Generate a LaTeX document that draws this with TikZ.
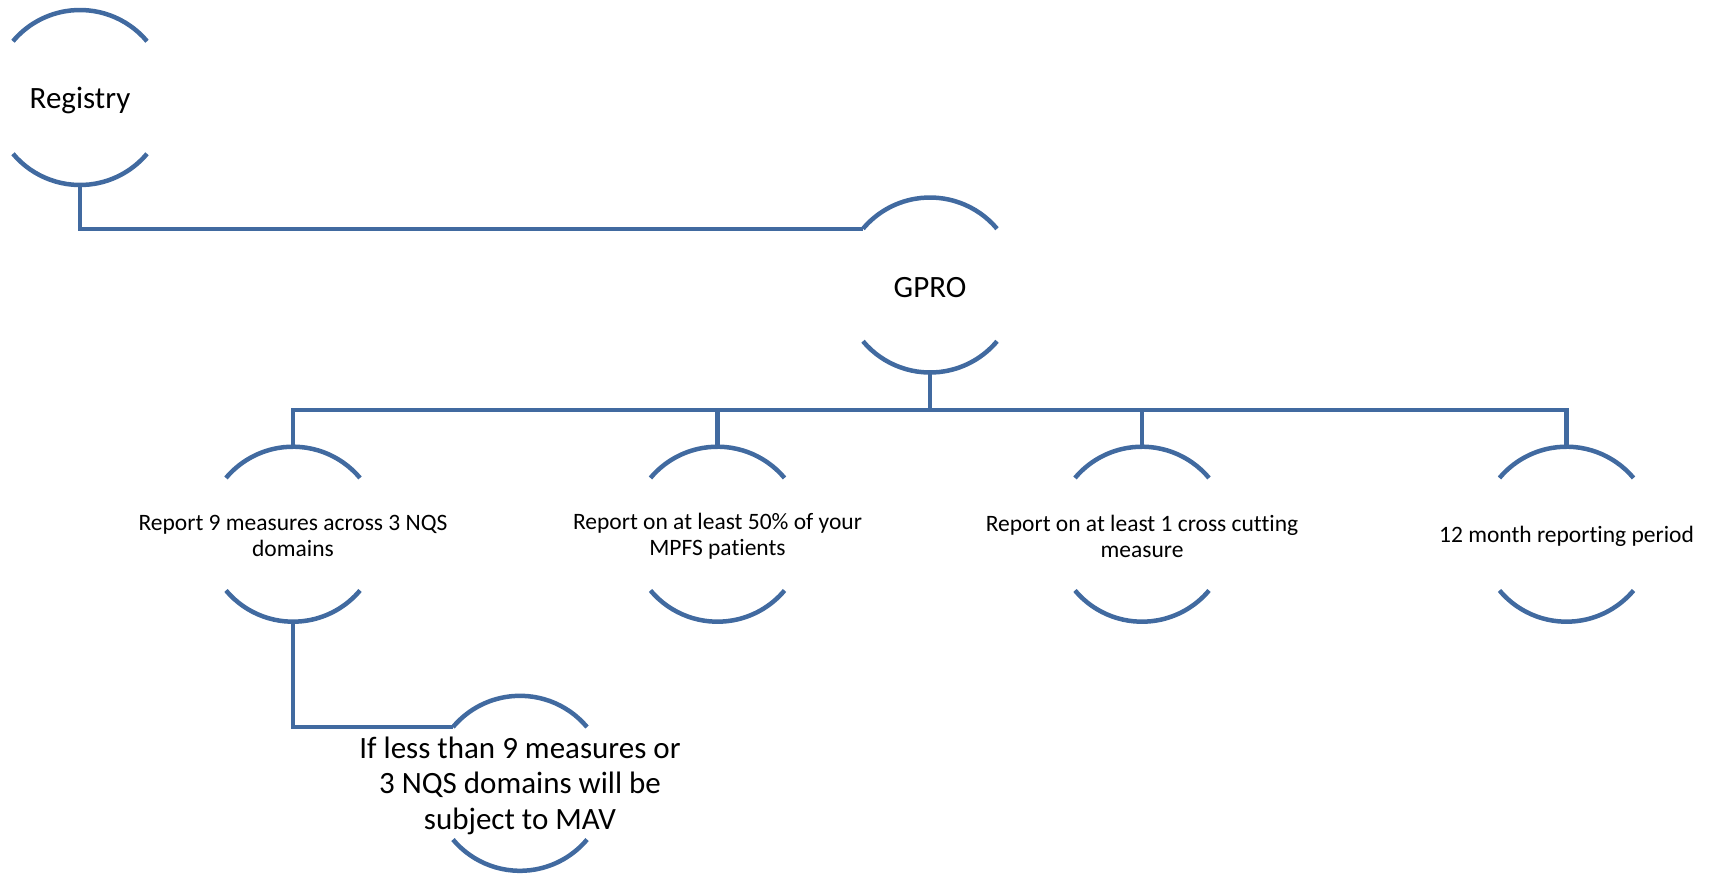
\documentclass[tikz,border=0pt]{standalone}
\usepackage{fontspec}
\setmainfont[Ligatures=NoCommon]{Carlito}
\definecolor{lnc}{RGB}{65,106,160}
\newcommand\bubarcs[1]{%
  \draw[ln] (#1.40) arc[start angle=40,end angle=140,radius=87.5pt];
  \draw[ln] (#1.220) arc[start angle=220,end angle=320,radius=87.5pt];}
\begin{document}
\begin{tikzpicture}[x=1pt,y=-1pt,
  bub/.style={circle, minimum size=175pt, inner sep=0pt, outer sep=0pt},
  big/.style={font=\fontsize{31}{35.5}\selectfont, align=center, inner sep=0pt, yshift=-2.5pt},
  small/.style={font=\fontsize{23.5}{25.5}\selectfont, align=center, inner sep=0pt, yshift=-2pt},
  ln/.style={draw=lnc, line width=4.5pt},
]
\useasboundingbox (0,0) rectangle (1715,876);

\node[bub, label={[big]center:Registry}] (reg) at (80,97.5) {};
\node[bub, label={[big]center:GPRO}] (gpro) at (930,285) {};
\node[bub, label={[small]center:{Report 9 measures across 3 NQS\\domains}}] (m1) at (293,534.2) {};
\node[bub, label={[small]center:{Report on at least 50\% of your\\MPFS patients}}] (m2) at (717.5,534.2) {};
\node[bub, label={[small]center:{Report on at least 1 cross cutting\\measure}}] (m3) at (1142,534.2) {};
\node[bub, label={[small]center:{12 month reporting period}}] (m4) at (1566.5,534.2) {};
\node[bub, label={[big]center:{If less than 9 measures or\\3 NQS domains will be\\subject to MAV}}] (mav) at (520,783.3) {};

\bubarcs{reg}
\bubarcs{gpro}
\bubarcs{m1}
\bubarcs{m2}
\bubarcs{m3}
\bubarcs{m4}
\bubarcs{mav}

\coordinate (bus) at (930,410);
\draw[ln] (reg.south) |- (gpro.140);
\draw[ln] (gpro.south) -- (bus);
\draw[ln] (bus) -| (m1.north);
\draw[ln] (bus) -| (m2.north);
\draw[ln] (bus) -| (m3.north);
\draw[ln] (bus) -| (m4.north);
\draw[ln] (m1.south) |- (mav.140);
\end{tikzpicture}
\end{document}
